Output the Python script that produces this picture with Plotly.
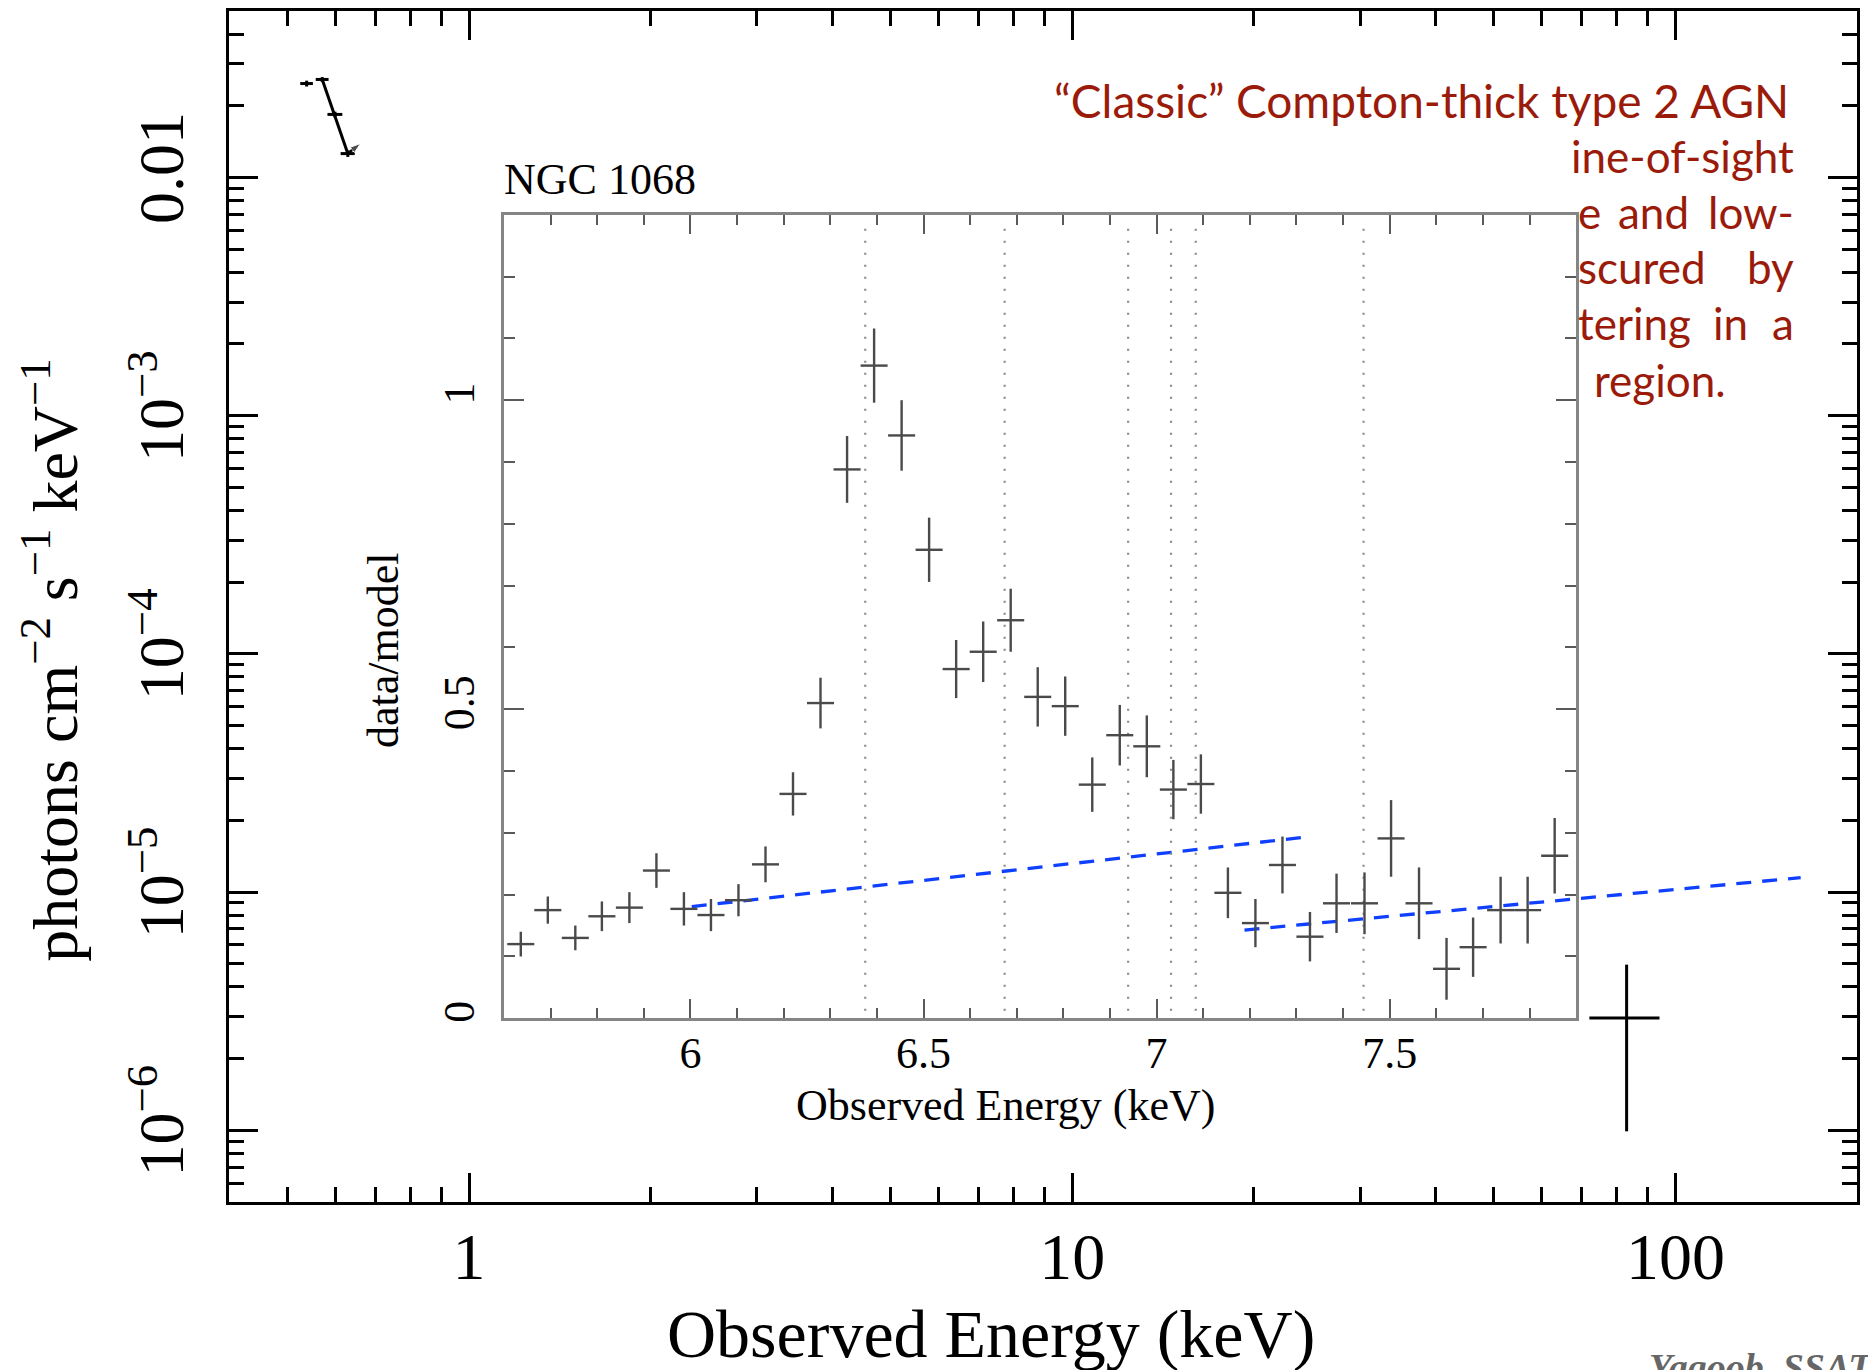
import plotly.graph_objects as go

# ---------------- main spectrum (log-log) ----------------
soft_energy = [0.538, 0.571, 0.5995, 0.6295]
soft_energy_err = [0.013, 0.014, 0.017, 0.017]
soft_flux = [0.0248, 0.0258, 0.0184, 0.0126]
soft_flux_err = [0.0007, 0.0006, 0.0005, 0.0004]
soft_model_energy = [0.571, 0.6295]
soft_model_flux = [0.0258, 0.0126]
arrow_energy = [0.6295, 0.661]
arrow_flux = [0.0126, 0.0139]

hard_energy = [83.0]
hard_energy_err_plus = [11.1]
hard_energy_err_minus = [11.0]
hard_flux = [2.96e-6]
hard_flux_err_plus = [2.0e-6]
hard_flux_err_minus = [1.97e-6]

model1_energy = [2.34, 24.8]
model1_flux = [8.69e-6, 1.71e-5]
model2_energy = [19.3, 161.3]
model2_flux = [6.93e-6, 1.15e-5]

main_xtick_vals = [1, 10, 100]
main_xtick_text = ["1", "10", "100"]
main_ytick_vals = [1e-6, 1e-5, 1e-4, 1e-3, 0.01]
main_ytick_text = ["10<sup>−6</sup>", "10<sup>−5</sup>", "10<sup>−4</sup>",
                   "10<sup>−3</sup>", "0.01"]

# ---------------- inset: data/model around Fe K ----------------
inset_energy = [5.636, 5.694, 5.753, 5.810, 5.869, 5.927, 5.986, 6.044, 6.103,
                6.161, 6.220, 6.279, 6.336, 6.394, 6.453, 6.512, 6.570, 6.628,
                6.687, 6.745, 6.804, 6.862, 6.921, 6.979, 7.036, 7.095, 7.153,
                7.212, 7.270, 7.329, 7.386, 7.446, 7.503, 7.563, 7.622, 7.679,
                7.738, 7.796, 7.854]
inset_ratio = [0.120, 0.175, 0.130, 0.165, 0.179, 0.239, 0.177, 0.167, 0.191,
               0.249, 0.363, 0.510, 0.888, 1.056, 0.943, 0.758, 0.565, 0.593,
               0.644, 0.520, 0.505, 0.378, 0.458, 0.440, 0.370, 0.379, 0.203,
               0.154, 0.248, 0.132, 0.186, 0.186, 0.291, 0.186, 0.080, 0.115,
               0.175, 0.175, 0.263]
inset_ratio_err = [0.020, 0.022, 0.020, 0.024, 0.025, 0.028, 0.027, 0.026, 0.026,
                   0.029, 0.035, 0.041, 0.054, 0.060, 0.057, 0.052, 0.047, 0.049,
                   0.051, 0.048, 0.048, 0.044, 0.049, 0.050, 0.048, 0.048, 0.041,
                   0.039, 0.046, 0.040, 0.048, 0.050, 0.062, 0.058, 0.050, 0.048,
                   0.054, 0.054, 0.061]
inset_bin_halfwidth = 0.029
line_energies = [6.375, 6.674, 6.939, 7.031, 7.084, 7.444]
line_ratio_span = [0.012, 1.288]

# ---------------- layout geometry (pixels) ----------------
W, H = 1868, 1370
ML, MR, MT, MB = 229, 8, 8, 168
PW, PH = W - ML - MR, H - MT - MB


def px(x):
    return (x - ML) / PW


def py(y):
    return (H - MB - y) / PH


SERIF = "Liberation Serif, Times New Roman, serif"
SANS = "Lato, Open Sans, sans-serif"
RED = "#9b1b0b"

fig = go.Figure()

# main-plot traces
fig.add_trace(go.Scatter(
    x=soft_energy, y=soft_flux, mode="markers",
    marker=dict(size=1, color="black"),
    error_x=dict(type="data", array=soft_energy_err, color="black", thickness=3, width=0),
    error_y=dict(type="data", array=soft_flux_err, color="black", thickness=3, width=0),
    showlegend=False, xaxis="x", yaxis="y"))
fig.add_trace(go.Scatter(
    x=soft_model_energy, y=soft_model_flux, mode="lines",
    line=dict(color="black", width=3), showlegend=False, xaxis="x", yaxis="y"))
fig.add_trace(go.Scatter(
    x=arrow_energy, y=arrow_flux, mode="lines+markers",
    line=dict(color="black", width=2.5),
    marker=dict(symbol=["circle", "arrow"], size=[0, 11], angleref="previous",
                color="black"),
    showlegend=False, xaxis="x", yaxis="y"))
fig.add_trace(go.Scatter(
    x=hard_energy, y=hard_flux, mode="markers",
    marker=dict(size=1, color="black"),
    error_x=dict(type="data", symmetric=False, array=hard_energy_err_plus,
                 arrayminus=hard_energy_err_minus, color="black", thickness=3, width=0),
    error_y=dict(type="data", symmetric=False, array=hard_flux_err_plus,
                 arrayminus=hard_flux_err_minus, color="black", thickness=3, width=0),
    showlegend=False, xaxis="x", yaxis="y"))
for mx, my in ((model1_energy, model1_flux), (model2_energy, model2_flux)):
    fig.add_trace(go.Scatter(
        x=mx, y=my, mode="lines",
        line=dict(color="#1040ff", width=3.3, dash="15px,11px"),
        showlegend=False, xaxis="x", yaxis="y"))

# inset traces
vx, vy = [], []
for e in line_energies:
    vx += [e, e, None]
    vy += [line_ratio_span[0], line_ratio_span[1], None]
fig.add_trace(go.Scatter(
    x=vx, y=vy, mode="lines",
    line=dict(color="#8a8a8a", width=2.2, dash="2px,10px"),
    showlegend=False, xaxis="x2", yaxis="y2"))
fig.add_trace(go.Scatter(
    x=inset_energy, y=inset_ratio, mode="markers",
    marker=dict(size=1, color="#4a4a4a"),
    error_x=dict(type="constant", value=inset_bin_halfwidth, color="#4a4a4a",
                 thickness=2.4, width=0),
    error_y=dict(type="data", array=inset_ratio_err, color="#4a4a4a",
                 thickness=2.4, width=0),
    showlegend=False, xaxis="x2", yaxis="y2"))

# minor tick positions (axis decoration)
x_minor = [m * d for d in (0.1, 1, 10) for m in range(2, 10) if 0.4 < m * d < 200]
y_minor = [m * d for d in (1e-7, 1e-6, 1e-5, 1e-4, 1e-3, 1e-2) for m in range(2, 10)
           if 5e-7 < m * d < 0.05]

axis_main = dict(showline=True, linecolor="black", linewidth=3, mirror="allticks",
                 ticks="inside", ticklen=29, tickwidth=2.5, tickcolor="black",
                 showgrid=False, zeroline=False, type="log")

annotations = []


def ann(text, x, y, size, family=SERIF, color="black", xanchor="center",
        yanchor="middle", angle=0):
    annotations.append(dict(text=text, x=px(x), y=py(y), xref="paper", yref="paper",
                            xanchor=xanchor, yanchor=yanchor, showarrow=False,
                            textangle=angle,
                            font=dict(size=size, family=family, color=color)))


# main axis titles
ann("Observed Energy (keV)", 992, 1334, 68)
ann("photons cm<sup>−2</sup> s<sup>−1</sup> keV<sup>−1</sup>", 50, 659, 64, angle=-90)
# inset titles
ann("NGC 1068", 503, 177, 44, xanchor="left")
ann("Observed Energy (keV)", 1007, 1105, 44)
ann("data/model", 384, 649, 44, angle=-90)
# red commentary (visible parts)
ann("“Classic” Compton-thick type 2 AGN", 1794, 98, 46, SANS, RED, xanchor="right")
ann("ine-of-sight", 1799, 153, 44, SANS, RED, xanchor="right")
ann("e", 1578, 210, 44, SANS, RED, xanchor="left")
ann("and", 1619, 210, 44, SANS, RED, xanchor="left")
ann("low-", 1799, 210, 44, SANS, RED, xanchor="right")
ann("scured", 1578, 265, 44, SANS, RED, xanchor="left")
ann("by", 1799, 265, 44, SANS, RED, xanchor="right")
ann("tering", 1578, 321, 44, SANS, RED, xanchor="left")
ann("in", 1714, 321, 44, SANS, RED, xanchor="left")
ann("a", 1799, 321, 44, SANS, RED, xanchor="right")
ann("region.", 1595, 378, 44, SANS, RED, xanchor="left")
# credit
ann("<b><i>Yaqoob, SSAT</i></b>", 1650, 1367, 38, color="#666666", xanchor="left")

inset_axis = dict(showline=True, linecolor="#858585", linewidth=3, mirror="allticks",
                  ticks="inside", tickwidth=2, tickcolor="#5a5a5a", showgrid=False,
                  zeroline=False, tickfont=dict(family=SERIF, size=44, color="black"))

fig.update_layout(
    width=W, height=H,
    margin=dict(l=ML, r=MR, t=MT, b=MB, pad=0),
    paper_bgcolor="white", plot_bgcolor="rgba(0,0,0,0)",
    showlegend=False,
    xaxis=dict(axis_main, range=[-0.39794, 2.30103], domain=[0, 1], anchor="y",
               tickmode="array", tickvals=main_xtick_vals, ticktext=main_xtick_text,
               tickfont=dict(family=SERIF, size=66, color="black"),
               ticklabelstandoff=-5,
               minor=dict(tickmode="array", tickvals=x_minor, ticks="inside",
                          ticklen=15, tickwidth=2.5, tickcolor="black")),
    yaxis=dict(axis_main, range=[-6.30103, -1.30103], domain=[0, 1], anchor="x",
               tickmode="array", tickvals=main_ytick_vals, ticktext=main_ytick_text,
               tickfont=dict(family=SERIF, size=64, color="black"), tickangle=-90,
               ticklabelstandoff=17,
               minor=dict(tickmode="array", tickvals=y_minor, ticks="inside",
                          ticklen=15, tickwidth=2.5, tickcolor="black")),
    xaxis2=dict(inset_axis, range=[5.6, 7.9], domain=[px(504.5), px(1578.6)],
                anchor="y2", dtick=0.5, tick0=0, ticklen=19, ticklabelstandoff=-6,
                minor=dict(dtick=0.1, tick0=0, ticks="inside", ticklen=10,
                           tickwidth=2, tickcolor="#5a5a5a")),
    yaxis2=dict(inset_axis, range=[0, 1.3], domain=[py(1017.8), py(212.3)],
                anchor="x2", dtick=0.5, tick0=0, ticklen=20, tickangle=-90,
                ticklabelstandoff=9,
                minor=dict(dtick=0.1, tick0=0, ticks="inside", ticklen=11,
                           tickwidth=2, tickcolor="#5a5a5a")),
    annotations=annotations,
)

fig.write_html("out.html",
               config={"displayModeBar": False},
               post_script="document.body.style.margin='0px';"
                           "document.body.style.overflow='hidden';")
